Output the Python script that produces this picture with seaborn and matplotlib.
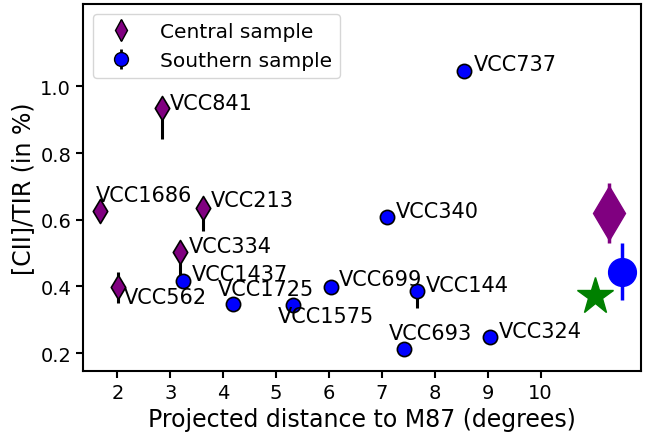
import numpy as np
import pandas as pd
import matplotlib
matplotlib.use("Agg")
import matplotlib.pyplot as plt
import seaborn as sns

# Central sample
c_names = ["VCC841", "VCC1686", "VCC213", "VCC334", "VCC562"]
c_x = [2.84, 1.68, 3.61, 3.19, 2.02]
c_y = [0.935, 0.625, 0.634, 0.504, 0.397]
c_err_lo = [0.093, 0.0, 0.067, 0.08, 0.047]
c_err_hi = [0.02, 0.0, 0.02, 0.02, 0.047]
c_off = [(6, 3.5), (-3, 12), (6, 6), (6, 4.3), (3.6, -7.2)]

# Southern sample
s_names = ["VCC1437", "VCC1725", "VCC1575", "VCC699", "VCC340", "VCC144",
           "VCC693", "VCC324", "VCC737"]
s_x = [3.25, 4.19, 5.32, 6.03, 7.09, 7.67, 7.42, 9.04, 8.56]
s_y = [0.416, 0.346, 0.345, 0.398, 0.607, 0.385, 0.213, 0.247, 1.045]
s_err_lo = [0.0, 0.0, 0.0, 0.0, 0.0, 0.05, 0.0, 0.0, 0.0]
s_err_hi = [0.0, 0.0, 0.0, 0.0, 0.0, 0.02, 0.0, 0.0, 0.0]
s_off = [(6, 5), (-11, 11), (-11, -8.4), (6, 6), (6.5, 4.8), (6.5, 4.5),
         (-11, 11.3), (6.2, 4.8), (6.5, 5.3)]

# Summary values
mean_c = (11.29, 0.619, 0.09)
mean_s = (11.54, 0.444, 0.085)
star = (11.03, 0.37)

sns.set_style("ticks")
plt.rcParams.update({
    "axes.edgecolor": "black",
    "axes.linewidth": 1.5,
    "xtick.color": "black",
    "ytick.color": "black",
    "xtick.major.width": 1.5,
    "ytick.major.width": 1.5,
    "xtick.major.size": 5,
    "ytick.major.size": 5,
    "text.color": "black",
    "axes.labelcolor": "black",
})

fig, ax = plt.subplots(figsize=(6.47, 4.39), dpi=100)

# error bars
ax.errorbar(c_x, c_y, yerr=[c_err_lo, c_err_hi], fmt="none", ecolor="black",
            elinewidth=2.2, zorder=1)
ax.errorbar(s_x, s_y, yerr=[s_err_lo, s_err_hi], fmt="none", ecolor="black",
            elinewidth=2.2, zorder=1)

dfc = pd.DataFrame({"x": c_x, "y": c_y})
dfs = pd.DataFrame({"x": s_x, "y": s_y})
sns.scatterplot(data=dfc, x="x", y="y", marker="d", s=150, color="purple",
                edgecolor="black", linewidth=1.2, ax=ax, zorder=3, legend=False)
sns.scatterplot(data=dfs, x="x", y="y", marker="o", s=105, color="blue",
                edgecolor="black", linewidth=1.2, ax=ax, zorder=3, legend=False)

# summary markers
ax.errorbar([mean_c[0]], [mean_c[1]], yerr=[mean_c[2]], fmt="d", color="purple",
            ms=28, elinewidth=2.5, zorder=2)
ax.errorbar([mean_s[0]], [mean_s[1]], yerr=[mean_s[2]], fmt="o", color="blue",
            ms=20, elinewidth=2.5, zorder=2)
ax.plot([star[0]], [star[1]], marker="*", color="green", ms=28, ls="none", zorder=2)

for n, x, y, off in zip(c_names, c_x, c_y, c_off):
    ax.annotate(n, (x, y), xytext=off, textcoords="offset points",
                ha="left", va="center", fontsize=15)
for n, x, y, off in zip(s_names, s_x, s_y, s_off):
    ax.annotate(n, (x, y), xytext=off, textcoords="offset points",
                ha="left", va="center", fontsize=15)

# legend handles
h1 = ax.errorbar([np.nan], [np.nan], yerr=[0.1], fmt="d", color="purple",
                 mec="black", ms=11, ecolor="black", elinewidth=2, label="Central sample")
h2 = ax.errorbar([np.nan], [np.nan], yerr=[0.1], fmt="o", color="blue",
                 mec="black", ms=10, ecolor="black", elinewidth=2, label="Southern sample")
ax.legend(handles=[h1, h2], loc="upper left", fontsize=14.5, frameon=True,
          borderaxespad=0.5, handletextpad=0.9)

ax.set_xlim(1.35, 11.9)
ax.set_ylim(0.146, 1.247)
ax.set_xticks([2, 3, 4, 5, 6, 7, 8, 9, 10])
ax.set_yticks([0.2, 0.4, 0.6, 0.8, 1.0])
ax.tick_params(labelsize=14)
ax.set_xlabel("Projected distance to M87 (degrees)", fontsize=17)
ax.set_ylabel("[CII]/TIR (in %)", fontsize=17)

fig.subplots_adjust(left=83/647, right=641/647, top=1 - 5/439, bottom=1 - 372/439)
fig.savefig("out.png", dpi=100)
